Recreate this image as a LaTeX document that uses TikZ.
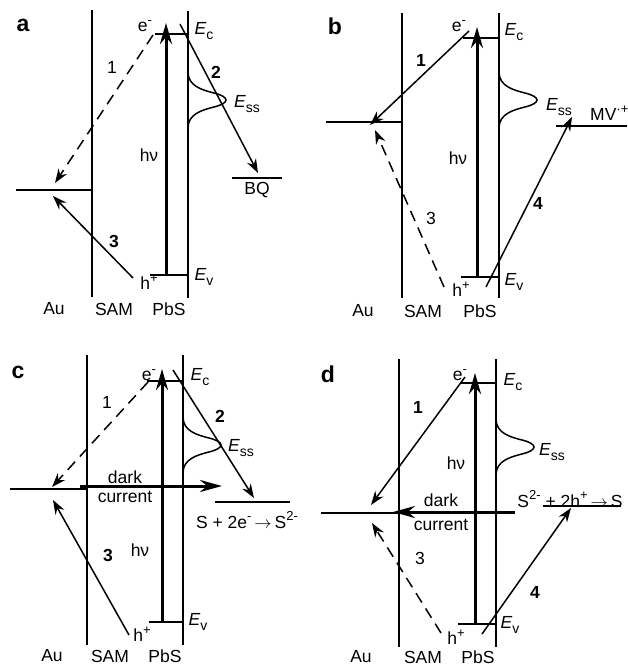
\documentclass[tikz,border=0pt]{standalone}
\usepackage{fontspec}
\setmainfont{Liberation Sans}
\usetikzlibrary{arrows.meta}
\newcommand\myup[1]{\raisebox{0.42em}{\fontsize{13}{13}\selectfont #1}}
\newcommand\mydn[1]{\raisebox{-0.28em}{\fontsize{14}{14}\selectfont #1}}
\newcommand\myto{\,$\rightarrow$\,}
\begin{document}
\begin{tikzpicture}[x=1pt,y=-1pt,
  wall/.style={line width=1.5pt},
  lvl/.style={line width=1.5pt},
  tr/.style={line width=1.5pt,-{Stealth[length=14pt,width=10pt]}},
  trd/.style={tr,dash pattern=on 11pt off 7pt},
  hnu/.style={line width=3pt,-{Stealth[length=21pt,width=12pt]}},
  dark/.style={line width=3pt,-{Stealth[length=22pt,width=12pt]}},
  lbl/.style={inner sep=0pt,font=\fontsize{17.5}{20}\selectfont},
  num/.style={inner sep=0pt,font=\fontsize{17.5}{20}\selectfont\bfseries},
  pan/.style={inner sep=0pt,font=\fontsize{23}{26}\selectfont\bfseries},
  ess/.pic={\draw[line width=1.5pt] (0,-28) .. controls (0,-14) and (14,-10) .. (26,-7) .. controls (42,-3) and (42,3) .. (26,7) .. controls (14,10) and (0,14) .. (0,28);}
]
\useasboundingbox (0,0) rectangle (627,666);

% ================= panel a =================
\coordinate (aSt) at (92,10);  \coordinate (aSb) at (92,297);
\coordinate (aPt) at (188,11); \coordinate (aPb) at (188,298);
\draw[wall] (aSt) -- (aSb);
\draw[wall] (aPt) -- (aPb);
\coordinate (aEcL) at (155,34); \coordinate (aEcR) at (188,34);
\coordinate (aEvL) at (150,275); \coordinate (aEvR) at (188,275);
\coordinate (aAuL) at (16,190); \coordinate (aAuR) at (92,190);
\coordinate (aBQL) at (232,178); \coordinate (aBQR) at (282,178);
\draw[lvl] (aEcL) -- (aEcR);
\draw[lvl] (aEvL) -- (aEvR);
\draw[lvl] (aAuL) -- (aAuR);
\draw[lvl] (aBQL) -- (aBQR);
\coordinate (ahb) at (166,275); \coordinate (aht) at (166,23);
\draw[hnu] (ahb) -- (aht);
\pic at (188,100) {ess};
\coordinate (a1s) at (153,35); \coordinate (a1e) at (55,183);
\coordinate (a2s) at (180,24); \coordinate (a2e) at (258,173);
\coordinate (a3s) at (133,278); \coordinate (a3e) at (53,196);
\draw[trd] (a1s) -- (a1e);
\draw[tr] (a2s) -- (a2e);
\draw[tr] (a3s) -- (a3e);
\node[pan] (aL) at (23,25) {a};
\node[lbl] (aE) at (145,26) {e\myup{-}};
\node[lbl] (aEc) at (204,31) {\textit{E}\mydn{c}};
\node[lbl] (an1) at (112,67) {1};
\node[num] (an2) at (216,72) {2};
\node[lbl] (aEss) at (247,104) {\textit{E}\mydn{ss}};
\node[lbl] (ahv) at (149,155) {hν};
\node[lbl] (aBQ) at (257,190) {BQ};
\node[num] (an3) at (114,241) {3};
\node[lbl] (ahp) at (149,282) {h\myup{+}};
\node[lbl] (aEv) at (204,277) {\textit{E}\mydn{v}};
\node[lbl] (aAu) at (54,309) {Au};
\node[lbl] (aSAM) at (114,309) {SAM};
\node[lbl] (aPbS) at (169,309) {PbS};

% ================= panel b =================
\coordinate (bSt) at (402,13);  \coordinate (bSb) at (402,298);
\coordinate (bPt) at (499,13); \coordinate (bPb) at (499,298);
\draw[wall] (bSt) -- (bSb);
\draw[wall] (bPt) -- (bPb);
\coordinate (bEcL) at (463,38); \coordinate (bEcR) at (499,38);
\coordinate (bEvL) at (461,277); \coordinate (bEvR) at (499,277);
\coordinate (bAuL) at (326,122); \coordinate (bAuR) at (402,122);
\coordinate (bMVL) at (556,126); \coordinate (bMVR) at (627,126);
\draw[lvl] (bEcL) -- (bEcR);
\draw[lvl] (bEvL) -- (bEvR);
\draw[lvl] (bAuL) -- (bAuR);
\draw[lvl] (bMVL) -- (bMVR);
\coordinate (bhb) at (477,277); \coordinate (bht) at (477,27);
\draw[hnu] (bhb) -- (bht);
\pic at (499,100) {ess};
\coordinate (b1s) at (469,31); \coordinate (b1e) at (370,125);
\coordinate (b3s) at (444,287); \coordinate (b3e) at (375,130);
\coordinate (b4s) at (486,287); \coordinate (b4e) at (572,117);
\draw[tr] (b1s) -- (b1e);
\draw[trd] (b3s) -- (b3e);
\draw[tr] (b4s) -- (b4e);
\node[pan] (bL) at (335,26) {b};
\node[lbl] (bE) at (459,26) {e\myup{-}};
\node[lbl] (bEc) at (514,32) {\textit{E}\mydn{c}};
\node[num] (bn1) at (421,60) {1};
\node[lbl] (bEss) at (559,107) {\textit{E}\mydn{ss}};
\node[lbl,anchor=west] (bMV) at (590,113) {MV\myup{·+}};
\node[lbl] (bhv) at (458,158) {hν};
\node[lbl] (bn3) at (431,218) {3};
\node[num] (bn4) at (538,203) {4};
\node[lbl] (bhp) at (461,289) {h\myup{+}};
\node[lbl] (bEv) at (514,282) {\textit{E}\mydn{v}};
\node[lbl] (bAu) at (363,311) {Au};
\node[lbl] (bSAM) at (423,311) {SAM};
\node[lbl] (bPbS) at (480,311) {PbS};

% ================= panel c =================
\coordinate (cSt) at (87,355);  \coordinate (cSb) at (87,645);
\coordinate (cPt) at (183,355); \coordinate (cPb) at (183,645);
\draw[wall] (cSt) -- (cSb);
\draw[wall] (cPt) -- (cPb);
\coordinate (cEcL) at (147,381); \coordinate (cEcR) at (183,381);
\coordinate (cEvL) at (149,622); \coordinate (cEvR) at (183,622);
\coordinate (cAuL) at (10,489); \coordinate (cAuR) at (87,489);
\coordinate (cSL) at (215,502); \coordinate (cSR) at (290,502);
\draw[lvl] (cEcL) -- (cEcR);
\draw[lvl] (cEvL) -- (cEvR);
\draw[lvl] (cAuL) -- (cAuR);
\draw[lvl] (cSL) -- (cSR);
\coordinate (chb) at (162,622); \coordinate (cht) at (162,369);
\draw[hnu] (chb) -- (cht);
\pic at (183,445) {ess};
\coordinate (cds) at (80,486); \coordinate (cde) at (222,486);
\draw[dark] (cds) -- (cde);
\coordinate (c1s) at (148,382); \coordinate (c1e) at (52,487);
\coordinate (c2s) at (173,370); \coordinate (c2e) at (254,498);
\coordinate (c3s) at (129,635); \coordinate (c3e) at (53,500);
\draw[trd] (c1s) -- (c1e);
\draw[tr] (c2s) -- (c2e);
\draw[tr] (c3s) -- (c3e);
\node[pan] (cL) at (18,372) {c};
\node[lbl] (cE) at (149,375) {e\myup{-}};
\node[lbl] (cEc) at (200,377) {\textit{E}\mydn{c}};
\node[lbl] (cn1) at (107,402) {1};
\node[num] (cn2) at (220,416) {2};
\node[lbl] (cEss) at (241,448) {\textit{E}\mydn{ss}};
\node[lbl] (cdark) at (125,477) {dark};
\node[lbl] (ccur) at (125,497) {current};
\node[lbl] (cR) at (247,520) {S + 2e\myup{-}\myto S\myup{2-}};
\node[lbl] (chv) at (140,550) {hν};
\node[num] (cn3) at (108,555) {3};
\node[lbl] (cEv) at (198,622) {\textit{E}\mydn{v}};
\node[lbl] (chp) at (142,634) {h\myup{+}};
\node[lbl] (cAu) at (52,656) {Au};
\node[lbl] (cSAM) at (110,656) {SAM};
\node[lbl] (cPbS) at (165,656) {PbS};

% ================= panel d =================
\coordinate (dSt) at (399,359);  \coordinate (dSb) at (399,647);
\coordinate (dPt) at (496,359); \coordinate (dPb) at (496,647);
\draw[wall] (dSt) -- (dSb);
\draw[wall] (dPt) -- (dPb);
\coordinate (dEcL) at (461,383); \coordinate (dEcR) at (496,383);
\coordinate (dEvL) at (458,624); \coordinate (dEvR) at (496,624);
\coordinate (dAuL) at (321,513); \coordinate (dAuR) at (399,513);
\coordinate (dSL) at (543,506); \coordinate (dSR) at (621,506);
\draw[lvl] (dEcL) -- (dEcR);
\draw[lvl] (dEvL) -- (dEvR);
\draw[lvl] (dAuL) -- (dAuR);
\draw[lvl] (dSL) -- (dSR);
\coordinate (dhb) at (475,624); \coordinate (dht) at (475,373);
\draw[hnu] (dhb) -- (dht);
\pic at (496,447) {ess};
\coordinate (dds) at (515,512); \coordinate (dde) at (393,512);
\draw[dark] (dds) -- (dde);
\coordinate (d1s) at (465,377); \coordinate (d1e) at (371,505);
\coordinate (d3s) at (441,633); \coordinate (d3e) at (372,523);
\coordinate (d4s) at (482,634); \coordinate (d4e) at (571,508);
\draw[tr] (d1s) -- (d1e);
\draw[trd] (d3s) -- (d3e);
\draw[tr] (d4s) -- (d4e);
\node[pan] (dL) at (328,374) {d};
\node[lbl] (dE) at (460,375) {e\myup{-}};
\node[lbl] (dEc) at (513,382) {\textit{E}\mydn{c}};
\node[num] (dn1) at (418,407) {1};
\node[lbl] (dhv) at (456,463) {hν};
\node[lbl] (dEss) at (552,452) {\textit{E}\mydn{ss}};
\node[lbl] (ddark) at (441,500) {dark};
\node[lbl] (dcur) at (441,525) {current};
\node[lbl] (dR) at (570,499) {S\myup{2-} + 2h\myup{+}\myto S};
\node[lbl] (dn3) at (420,558) {3};
\node[num] (dn4) at (535,592) {4};
\node[lbl] (dEv) at (510,625) {\textit{E}\mydn{v}};
\node[lbl] (dhp) at (456,637) {h\myup{+}};
\node[lbl] (dAu) at (361,657) {Au};
\node[lbl] (dSAM) at (423,657) {SAM};
\node[lbl] (dPbS) at (478,657) {PbS};
\end{tikzpicture}
\end{document}
